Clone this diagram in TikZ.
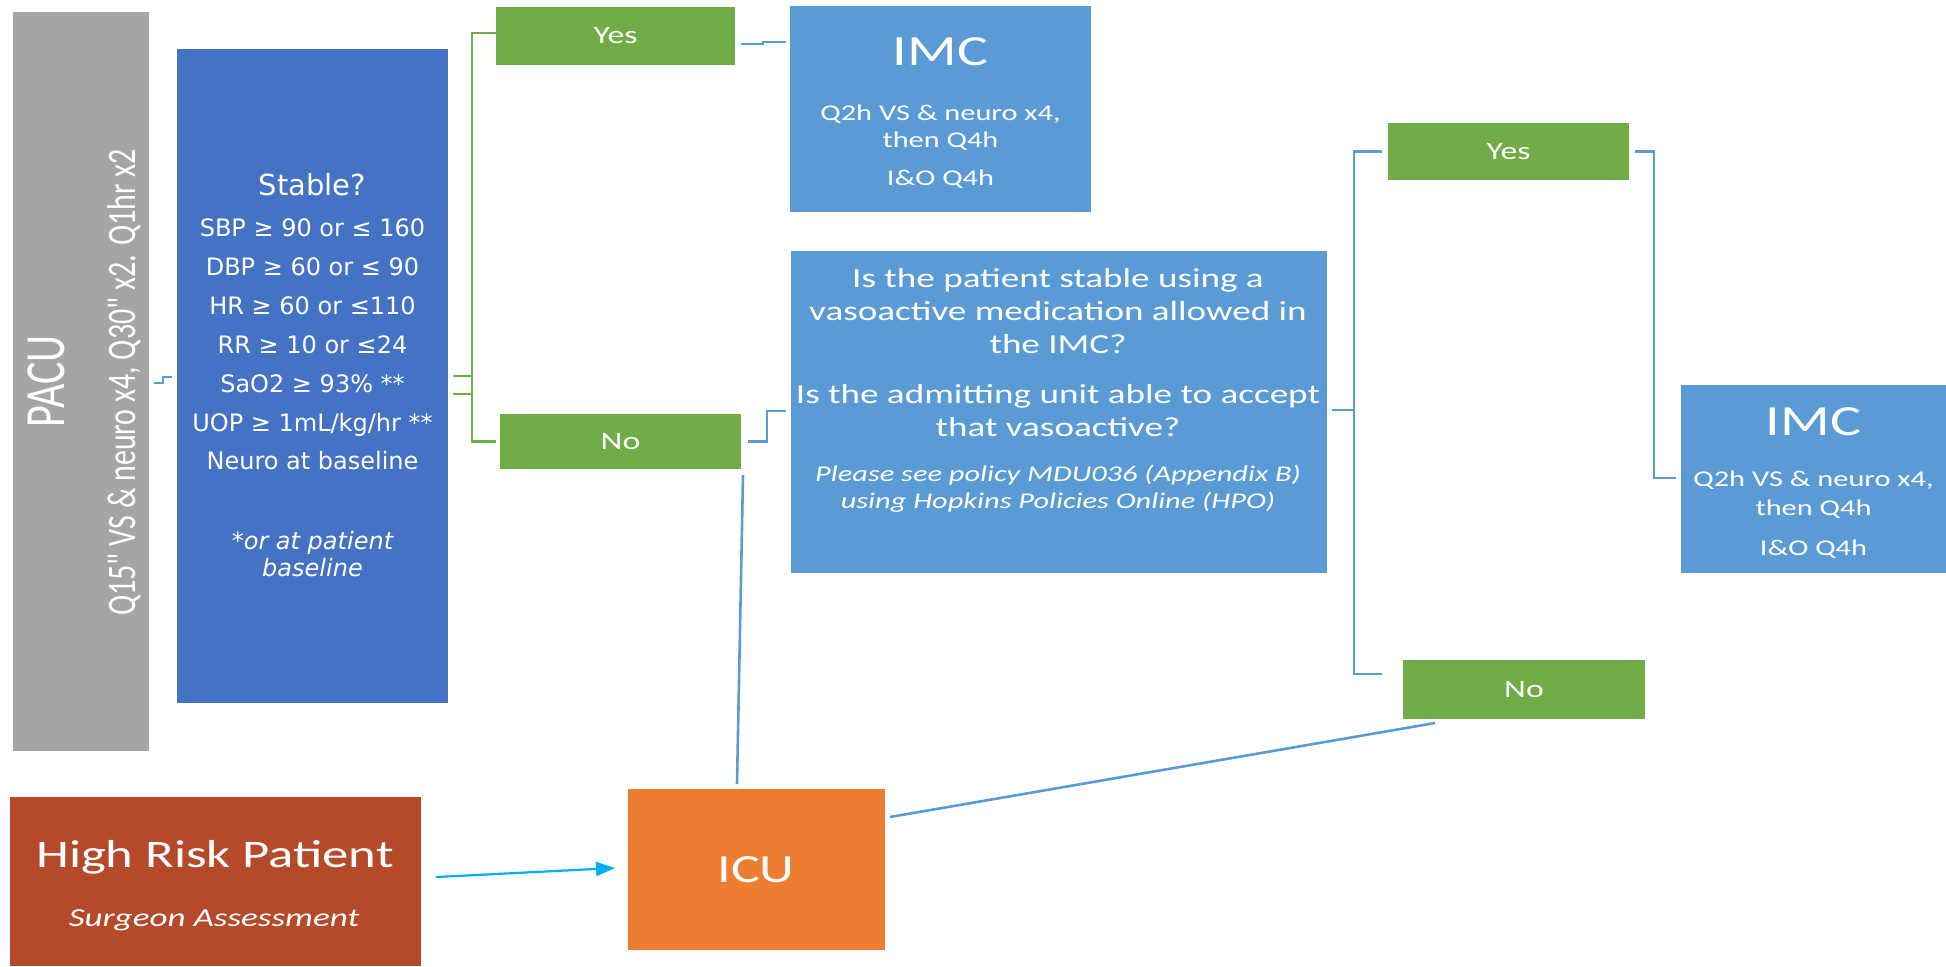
\documentclass[tikz,border=0pt]{standalone}
\usepackage{fontspec}
\setmainfont{Carlito}[FakeStretch=1.35]
\newfontfamily\plainfont{Carlito}
\newfontfamily\verd{DejaVu Sans}
\usetikzlibrary{calc,arrows.meta}
\definecolor{cgray}{HTML}{A5A5A5}
\definecolor{cblue}{HTML}{4472C4}
\definecolor{cgreen}{HTML}{70AD47}
\definecolor{clight}{HTML}{5B9BD5}
\definecolor{cbrick}{HTML}{B5492A}
\definecolor{corange}{HTML}{ED7D31}
\definecolor{ccyan}{HTML}{00B0F0}
\begin{document}
\begin{tikzpicture}[x=0.5pt,y=-0.5pt,
  box/.style={rectangle, inner sep=0pt, outer sep=0pt, text=white},
  yn/.style={box, fill=cgreen, font=\fontsize{12.5}{15}\selectfont},
  lbl/.style={inner sep=0pt, outer sep=0pt, text=white, anchor=base},
  stxt/.style={lbl, font=\verd\fontsize{12}{14}\selectfont},
  gline/.style={draw=cgreen, line width=1.3pt},
  bline/.style={draw=clight, line width=1.3pt},
  aline/.style={draw=ccyan, line width=1.1pt, -{Triangle[length=9.5pt,width=7pt]}},
]
\useasboundingbox (0,0) rectangle (1946,966);

% boxes
\node[box, fill=cgray, minimum width=68pt, minimum height=369.5pt] (pacu) at (81,381.5) {};
\node[box, fill=cblue, minimum width=135.5pt, minimum height=327pt] (stable) at (312.5,376) {};
\node[yn, minimum width=119.5pt, minimum height=29pt] (yes1) at (615.5,36) {Yes};
\node[box, fill=clight, minimum width=150.5pt, minimum height=103pt] (imc1) at (940.5,109) {};
\node[yn, minimum width=120.5pt, minimum height=27.5pt] (no1) at (620.5,441.5) {No};
\node[box, fill=clight, minimum width=268pt, minimum height=161pt] (q) at (1059,412) {};
\node[yn, minimum width=120.5pt, minimum height=28.5pt] (yes2) at (1508.5,151.5) {Yes};
\node[box, fill=clight, minimum width=132.5pt, minimum height=94pt] (imc2) at (1813.5,479) {};
\node[yn, minimum width=121pt, minimum height=29.5pt] (no2) at (1524,689.5) {No};
\node[box, fill=cbrick, minimum width=205.5pt, minimum height=84.5pt] (hrp) at (215.5,881.5) {};
\node[box, fill=corange, minimum width=128.5pt, minimum height=80.5pt] (icu) at (756.5,869.5) {};

% PACU texts
\node[inner sep=0pt, text=white, rotate=90, anchor=center, font=\plainfont\fontsize{21}{25}\selectfont] (pacut) at (46.5,381.5) {\scalebox{1}[1.35]{PACU}};
\node[inner sep=0pt, text=white, rotate=90, anchor=base, font=\plainfont\fontsize{15}{18}\selectfont] (pacus) at (135,382.5) {\scalebox{1}[1.35]{Q15" VS \& neuro x4, Q30" x2. Q1hr x2}};

% Stable texts
\node[lbl, font=\verd\fontsize{14.5}{17}\selectfont] (st0) at (312.5,195) {Stable?};
\foreach \t [count=\i] in {{SBP ≥ 90 or ≤ 160},{DBP ≥ 60 or ≤ 90},{HR ≥ 60 or ≤110},{RR ≥ 10 or ≤24},{SaO2 ≥ 93\% **},{UOP ≥ 1mL/kg/hr **},{Neuro at baseline}}
  \node[stxt] (st\i) at (312.5,{236.5+(\i-1)*38.9}) {\t};
\node[stxt, font=\verd\itshape\fontsize{12}{14}\selectfont] (st8) at (312.5,549) {*or at patient};
\node[stxt, font=\verd\itshape\fontsize{12}{14}\selectfont] (st9) at (312.5,576) {baseline};

% IMC 1 texts
\node[lbl, font=\fontsize{21.5}{25}\selectfont] (i1t) at (940.5,65) {IMC};
\node[lbl, font=\fontsize{11.25}{14}\selectfont] (i1a) at (940.5,120) {Q2h VS \& neuro x4,};
\node[lbl, font=\fontsize{11.25}{14}\selectfont] (i1b) at (940.5,147) {then Q4h};
\node[lbl, font=\fontsize{11.25}{14}\selectfont] (i1c) at (940.5,185) {I\&O Q4h};

% IMC 2 texts
\node[lbl, font=\fontsize{21.5}{25}\selectfont] (i2t) at (1813.5,435) {IMC};
\node[lbl, font=\fontsize{11.25}{14}\selectfont] (i2a) at (1813.5,486) {Q2h VS \& neuro x4,};
\node[lbl, font=\fontsize{11.25}{14}\selectfont] (i2b) at (1813.5,515) {then Q4h};
\node[lbl, font=\fontsize{11.25}{14}\selectfont] (i2c) at (1813.5,555) {I\&O Q4h};

% question texts
\node[lbl, font=\fontsize{13.75}{16.5}\selectfont] (q1) at (1058,287) {Is the patient stable using a};
\node[lbl, font=\fontsize{13.75}{16.5}\selectfont] (q2) at (1058,320) {vasoactive medication allowed in};
\node[lbl, font=\fontsize{13.75}{16.5}\selectfont] (q3) at (1058,353) {the IMC?};
\node[lbl, font=\fontsize{13.75}{16.5}\selectfont] (q4) at (1058,403) {Is the admitting unit able to accept};
\node[lbl, font=\fontsize{13.75}{16.5}\selectfont] (q5) at (1058,436) {that vasoactive?};
\node[lbl, font=\itshape\fontsize{11.25}{13.5}\selectfont] (q6) at (1058,481) {Please see policy MDU036 (Appendix B)};
\node[lbl, font=\itshape\fontsize{11.25}{13.5}\selectfont] (q7) at (1058,508) {using Hopkins Policies Online (HPO)};

% high risk and ICU texts
\node[lbl, font=\fontsize{19.5}{23}\selectfont] (hrpt) at (215,867) {High Risk Patient};
\node[lbl, font=\itshape\fontsize{13}{16}\selectfont] (hrps) at (214,926) {Surgeon Assessment};
\node[lbl, font=\fontsize{20}{24}\selectfont] (icut) at (756,882) {ICU};

% connectors
\draw[bline, line width=1pt] ($(pacu.east)+(5,1)$) -- ++(9,0) -- ++(0,-6) -- ++(9,0);
\draw[gline] ($(stable.east)+(5,18)$) -- ++(19,0) |- ($(yes1.west)+(0,-3)$);
\draw[gline] ($(stable.east)+(5,0)$) -- ++(19,0) |- ($(no1.west)+(-4,0)$);
\draw[bline] ($(yes1.east)+(6,8)$) -- ++(22,0) -- ++(0,-2) -- ($(imc1.west)+(-4,-67)$);
\draw[bline] ($(no1.east)+(7,0)$) -- ++(19,0) |- ($(q.west)+(-5,-1)$);
\draw[bline] ($(no1.south east)+(2,6)$) -- ($(icu.north)+(-19.5,-5)$);
\draw[aline] ($(hrp.east)+(15,-4.5)$) -- ($(icu.west)+(-13,-1.5)$);
\draw[bline] ($(icu.east)+(5,-52.5)$) -- ($(no2.south west)+(32,4)$);
\draw[bline] ($(q.east)+(5,-2)$) -- ++(22,0) |- ($(yes2.west)+(-6,0)$);
\draw[bline] ($(q.east)+(27,-2)$) |- ($(no2.west)+(-21,-15.5)$);
\draw[bline] ($(yes2.east)+(6,0)$) -- ++(19,0) |- ($(imc2.west)+(-5,-1)$);
\end{tikzpicture}
\end{document}
